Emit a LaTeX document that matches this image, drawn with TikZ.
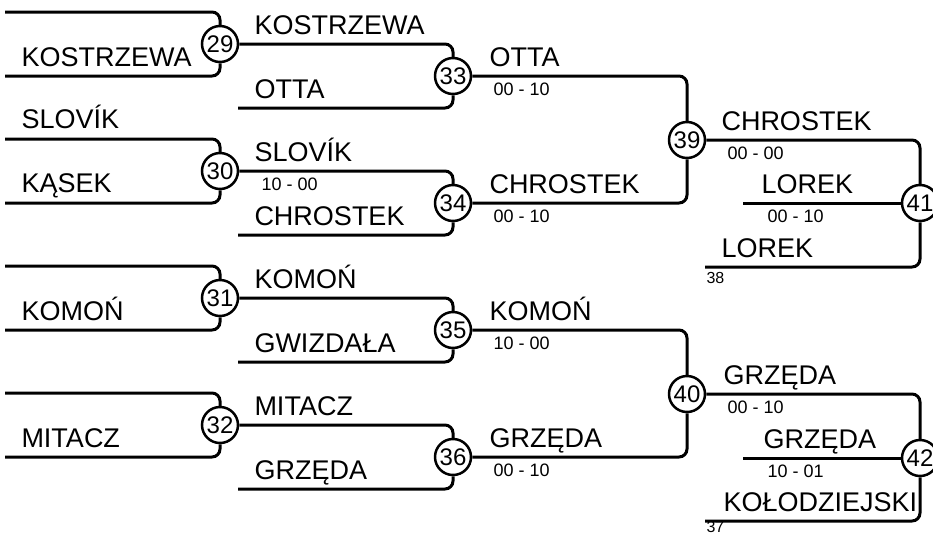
\documentclass[tikz,border=0pt]{standalone}
\usepackage{fontspec}
\setmainfont{Liberation Sans}
\usetikzlibrary{positioning}
\begin{document}
\begin{tikzpicture}[x=1pt, y=-1pt, line width=3pt,
  mnum/.style={draw,circle,line width=2.5pt,minimum size=36pt,inner sep=0pt,font=\fontsize{24}{24}\selectfont},
  pname/.style={anchor=base west,inner sep=0pt,font=\fontsize{27}{27}\selectfont},
  pscore/.style={anchor=base west,inner sep=0pt,font=\fontsize{18}{18}\selectfont},
  pref/.style={anchor=base west,inner sep=0pt,font=\fontsize{16}{16}\selectfont},
  link/.style={rounded corners=8pt}]
\useasboundingbox (0,0) rectangle (933,533);
% round 1
\foreach \m/\y in {29/44, 30/171, 31/298, 32/425} {
  \node[mnum] (m\m) at (220,\y) {\m};
  \coordinate (t\m) at (5,\y-32);
  \coordinate (b\m) at (5,\y+32);
  \draw[link] (t\m) -| (m\m);
  \draw[link] (b\m) -| (m\m);
}
% round 2
\node[mnum] (m33) at (453,76) {33};
\node[mnum] (m34) at (453,203) {34};
\node[mnum] (m35) at (453,330) {35};
\node[mnum] (m36) at (453,457) {36};
\coordinate (b33) at (238,108);
\coordinate (b34) at (238,235);
\coordinate (b35) at (238,362);
\coordinate (b36) at (238,489);
\draw[link] (m29) -| (m33); \draw[link] (b33) -| (m33);
\draw[link] (m30) -| (m34); \draw[link] (b34) -| (m34);
\draw[link] (m31) -| (m35); \draw[link] (b35) -| (m35);
\draw[link] (m32) -| (m36); \draw[link] (b36) -| (m36);
% round 3
\node[mnum] (m39) at (687,140) {39};
\node[mnum] (m40) at (687,394) {40};
\draw[link] (m33) -| (m39); \draw[link] (m34) -| (m39);
\draw[link] (m35) -| (m40); \draw[link] (m36) -| (m40);
% round 4
\node[mnum] (m41) at (920,203) {41};
\node[mnum] (m42) at (920,458) {42};
\coordinate (c41) at (743,203);
\coordinate (b41) at (705,267);
\coordinate (c42) at (743,458);
\coordinate (b42) at (705,521);
\draw[link] (m39) -| (m41); \draw (c41) -- (m41); \draw[link] (b41) -| (m41);
\draw[link] (m40) -| (m42); \draw (c42) -- (m42); \draw[link] (b42) -| (m42);
% names
\node[pname] (n1) at (20,66) {KOSTRZEWA};
\node[pname] (n2) at (20,128) {SLOVÍK};
\node[pname] (n3) at (20,192) {KĄSEK};
\node[pname] (n4) at (20,320) {KOMOŃ};
\node[pname] (n5) at (20,447) {MITACZ};
\node[pname] (n6) at (253,34) {KOSTRZEWA};
\node[pname] (n7) at (253,98) {OTTA};
\node[pname] (n8) at (253,161) {SLOVÍK};
\node[pname] (n9) at (253,225) {CHROSTEK};
\node[pname] (n10) at (253,288) {KOMOŃ};
\node[pname] (n11) at (253,352) {GWIZDAŁA};
\node[pname] (n12) at (253,415) {MITACZ};
\node[pname] (n13) at (253,479) {GRZĘDA};
\node[pname] (n14) at (488,66) {OTTA};
\node[pname] (n15) at (488,193) {CHROSTEK};
\node[pname] (n16) at (488,320) {KOMOŃ};
\node[pname] (n17) at (488,447) {GRZĘDA};
\node[pname] (n18) at (720,130) {CHROSTEK};
\node[pname] (n19) at (760,193) {LOREK};
\node[pname] (n20) at (720,257) {LOREK};
\node[pname] (n21) at (722,384) {GRZĘDA};
\node[pname] (n22) at (762,448) {GRZĘDA};
\node[pname] (n23) at (722,511) {KOŁODZIEJSKI};
% scores
\node[pscore] (s30) at (260,190) {10 - 00};
\node[pscore] (s33) at (492,95) {00 - 10};
\node[pscore] (s34) at (492,222) {00 - 10};
\node[pscore] (s35) at (492,349) {10 - 00};
\node[pscore] (s36) at (492,476) {00 - 10};
\node[pscore] (s39) at (726,159) {00 - 00};
\node[pscore] (s41) at (766,222) {00 - 10};
\node[pscore] (s40) at (726,413) {00 - 10};
\node[pscore] (s42) at (766,477) {10 - 01};
\node[pref] (r38) at (705,283) {38};
\node[pref] (r37) at (705,532) {37};
\end{tikzpicture}
\end{document}
